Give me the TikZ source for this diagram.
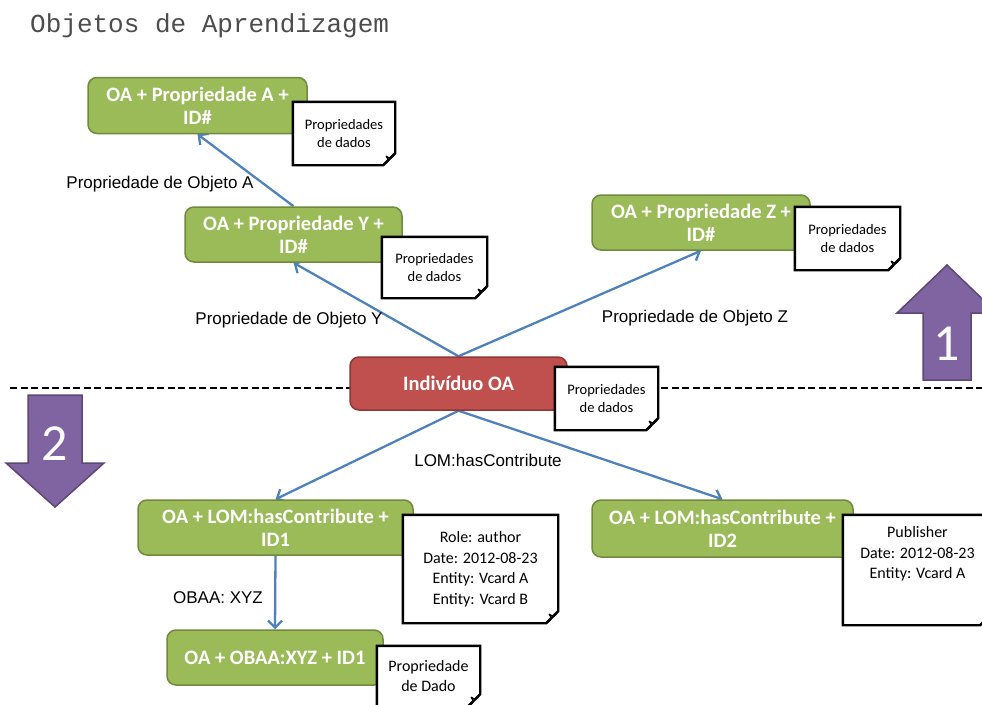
\documentclass[tikz,border=0pt]{standalone}
\usepackage{fontspec}
\setmainfont{Carlito}
\newfontfamily\labelfont{Liberation Sans}
\newfontfamily\titlefont{Liberation Mono}
\usetikzlibrary{arrows.meta}

\pgfdeclarelayer{links}
\pgfdeclarelayer{boxes}
\pgfdeclarelayer{notes}
\pgfsetlayers{links,boxes,notes,main}

\definecolor{oagreen}{HTML}{9BBB59}
\definecolor{oagreenline}{HTML}{71893F}
\definecolor{oared}{HTML}{C0504D}
\definecolor{oaredline}{HTML}{8C3836}
\definecolor{oapurple}{HTML}{8064A2}
\definecolor{oapurpleline}{HTML}{5C4776}
\definecolor{oablue}{HTML}{4F81BD}

\tikzset{
  greenbox/.style={rounded corners=9pt, fill=oagreen, draw=oagreenline,
    line width=1.5pt, text=white, align=center, inner sep=0pt,
    font=\bfseries\fontsize{20.5}{23}\selectfont},
  redbox/.style={greenbox, fill=oared, draw=oaredline},
  notetext/.style={inner sep=0pt, align=center, text=black,
    font=\fontsize{14.5}{17.5}\selectfont},
  bignotetext/.style={notetext, font=\fontsize{16}{20.5}\selectfont},
  notepen/.style={draw=black, fill=white, line width=2.4pt, line join=miter},
  notefold/.style={draw=black, fill=black!30, line width=1.2pt, line join=round},
  link/.style={draw=oablue, line width=2.3pt,
    -{Straight Barb[length=7pt,width=14pt,line width=2.3pt]}},
  linklabel/.style={inner sep=0pt, font=\labelfont\fontsize{17}{20}\selectfont},
  divider/.style={draw=black, line width=2.8pt, dash pattern=on 7pt off 3.5pt},
  bigarrow/.style={fill=oapurple, draw=oapurpleline, line width=1.5pt, line join=miter},
  arrownum/.style={inner sep=0pt, text=white, font=\fontsize{52}{52}\selectfont},
}

% a data-property note: rectangle with a folded bottom-right corner
\newcommand\datanote[6][notetext]{%
  \node[#1, minimum width=#4pt, minimum height=#5pt] (#2) at (#3) {#6};
  \begin{pgfonlayer}{notes}
    \draw[notepen] (#2.north west) -- (#2.north east)
      -- ([yshift=12pt]#2.south east) -- ([xshift=-12pt]#2.south east)
      -- (#2.south west) -- cycle;
    \draw[notefold] ([yshift=12pt]#2.south east)
      .. controls ([xshift=-4pt,yshift=6pt]#2.south east) .. ([xshift=-9pt,yshift=9pt]#2.south east)
      .. controls ([xshift=-6pt,yshift=4pt]#2.south east) .. ([xshift=-12pt]#2.south east) -- cycle;
  \end{pgfonlayer}}

\begin{document}
\begin{tikzpicture}[x=1pt,y=-1pt]
  \useasboundingbox (0,0) rectangle (982,704);

  % title
  \node[anchor=base west, inner sep=0pt, text=black!70,
        font=\titlefont\fontsize{26}{26}\selectfont] (title) at (30,32) {Objetos de Aprendizagem};

  % level divider
  \coordinate (divL) at (10,388);
  \coordinate (divR) at (982,388);
  \begin{pgfonlayer}{links}
    \draw[divider] (divL) -- (divR);
  \end{pgfonlayer}

  % direction arrows
  \draw[bigarrow] (947,265) -- (997,313) -- (971,313) -- (971,380) -- (923,380) -- (923,313) -- (897,313) -- cycle;
  \node[arrownum] (one) at (947,344) {1};
  \draw[bigarrow] (28,395) -- (82,395) -- (82,463) -- (104,463) -- (55,507) -- (6,463) -- (28,463) -- cycle;
  \node[arrownum] (two) at (55,444) {2};

  % individuals
  \begin{pgfonlayer}{boxes}
    \node[greenbox, minimum width=219pt, minimum height=56pt] (boxA) at (197.5,105.5) {OA + Propriedade A +\\ID\#};
    \node[greenbox, minimum width=217pt, minimum height=55pt] (boxY) at (293.5,234.5) {OA + Propriedade Y +\\ID\#};
    \node[greenbox, minimum width=218pt, minimum height=55pt] (boxZ) at (701,222.5) {OA + Propriedade Z +\\ID\#};
    \node[redbox, minimum width=217pt, minimum height=53pt] (ind) at (458.5,383.5) {Indivíduo OA};
    \node[greenbox, minimum width=275pt, minimum height=55pt] (id1) at (275.5,527.5) {OA + LOM:hasContribute +\\ID1};
    \node[greenbox, minimum width=261pt, minimum height=57pt] (id2) at (722.5,528.5) {OA + LOM:hasContribute +\\ID2};
    \node[greenbox, minimum width=216pt, minimum height=55pt] (obaa) at (275,657.5) {OA + OBAA:XYZ + ID1};
  \end{pgfonlayer}

  % data property notes
  \datanote{noteA}{344,133.5}{102}{63}{Propriedades\\de dados}
  \datanote{noteY}{434.5,267.5}{105}{61}{Propriedades\\de dados}
  \datanote{noteZ}{847.5,238.5}{105}{63}{Propriedades\\de dados}
  \datanote{noteI}{606.5,398.5}{103}{63}{Propriedades\\de dados}
  \datanote[bignotetext]{note1}{480.5,569}{155}{108}{Role: author\\Date: 2012-08-23\\Entity: Vcard A\\Entity: Vcard B}
  \datanote[bignotetext]{note2}{917.5,570}{149}{110}{Publisher\\Date: 2012-08-23\\Entity: Vcard A\\[14pt]}
  \datanote[bignotetext]{noteO}{428.5,676}{103}{60}{Propriedade\\de Dado}

  % object properties
  \begin{pgfonlayer}{links}
    \draw[link] (ind.north) -- (boxY.south);
    \draw[link] (ind.north) -- (boxZ.south);
    \draw[link] (boxY.north) -- (boxA.south);
    \draw[link] (ind.south) -- (id1.north);
    \draw[link] (ind.south) -- (id2.north);
    \draw[link] (id1.south) -- (obaa.north);
  \end{pgfonlayer}

  \node[linklabel] (labA) at (160,184) {Propriedade de Objeto A};
  \node[linklabel] (labY) at (289,320) {Propriedade de Objeto Y};
  \node[linklabel] (labZ) at (695,318) {Propriedade de Objeto Z};
  \node[linklabel] (labL) at (488,460) {LOM:hasContribute};
  \node[linklabel] (labO) at (218,598) {OBAA: XYZ};
\end{tikzpicture}
\end{document}
